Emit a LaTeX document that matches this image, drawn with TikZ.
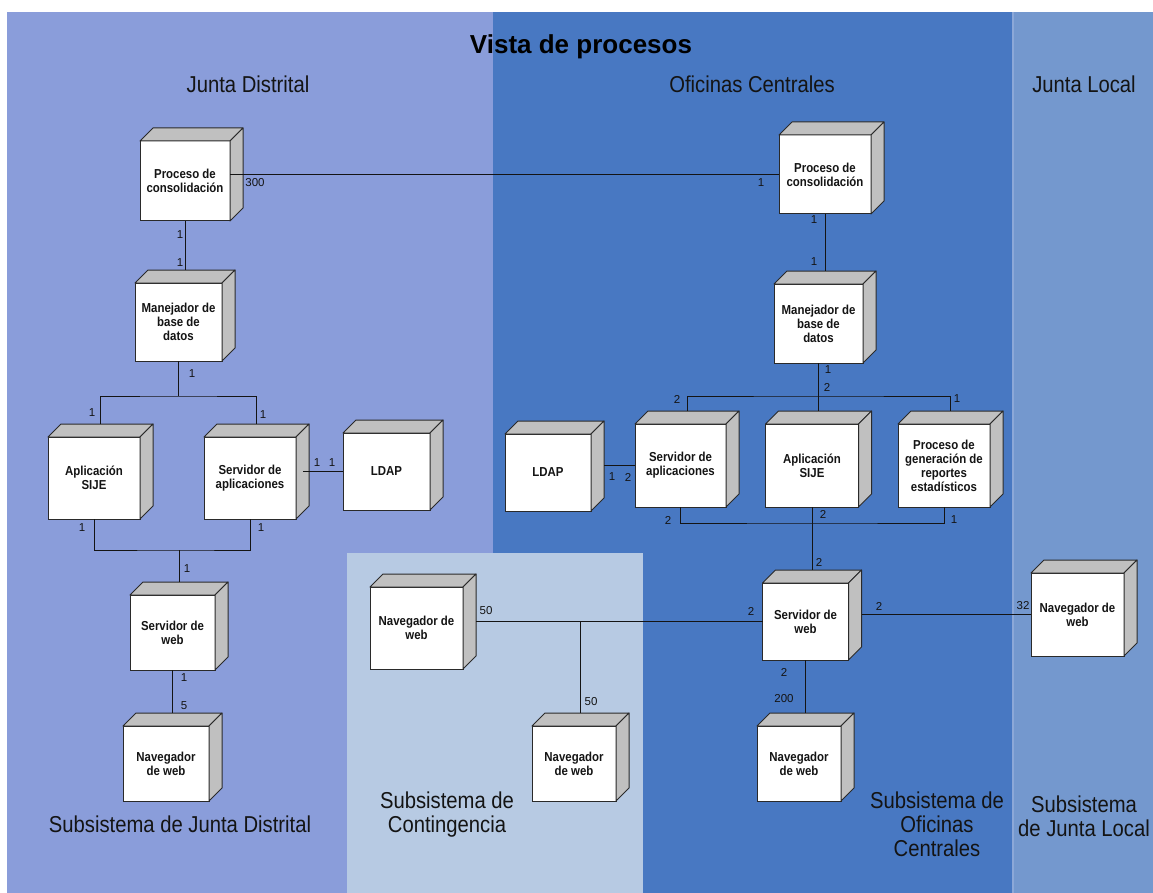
\documentclass[tikz,border=0pt]{standalone}
\usepackage{fontspec}
\setmainfont{Liberation Sans}
\newfontfamily\condfont{Liberation Sans}[FakeStretch=0.88]
\usetikzlibrary{calc}

\definecolor{jdblue}{HTML}{8A9DDA}
\definecolor{ocblue}{HTML}{4878C2}
\definecolor{jlblue}{HTML}{7498CE}
\definecolor{cgblue}{HTML}{B7CAE3}
\definecolor{seam}{HTML}{8CA8D8}
\definecolor{facegray}{HTML}{C0C0C0}
\definecolor{boxline}{HTML}{2A2A2A}
\definecolor{ink}{HTML}{141414}

% 3D deployment box: front face node, plus top and side faces,
% and a coordinate <name>-t at the middle of the back top edge
\newcommand\procbox[6]{%
  \node[nodebox, minimum width=#4pt, minimum height=#5pt] (#1) at (#2,#3) {#6};
  \filldraw[face] (#1.north west) -- ++(13pt,13pt)
     -- ([shift={(13pt,13pt)}]#1.north east) -- (#1.north east) -- cycle;
  \filldraw[face] (#1.north east) -- ++(13pt,13pt)
     -- ([shift={(13pt,13pt)}]#1.south east) -- (#1.south east) -- cycle;
  \coordinate (#1-t) at ([shift={(6.5pt,13pt)}]#1.north);
}

\begin{document}
\begin{tikzpicture}[x=1pt,y=-1pt,
  nodebox/.style={draw=boxline, fill=white, line width=1pt, outer sep=0pt,
    inner sep=2pt, align=center, text=ink,
    font=\condfont\bfseries\fontsize{13}{14}\selectfont},
  face/.style={draw=boxline, fill=facegray, line width=1pt, line join=round},
  link/.style={draw=ink, line width=1pt},
  mult/.style={inner sep=0pt, text=ink, font=\fontsize{11.5}{13}\selectfont},
  zonetitle/.style={inner sep=0pt, text=ink, align=center,
    font=\condfont\fontsize{23}{24}\selectfont},
]
\useasboundingbox (0,0) rectangle (1153,893);

% background zones
\fill[white] (0,0) rectangle (1153,893);
\fill[jdblue] (7,12) rectangle (493,893);
\fill[ocblue] (493,12) rectangle (1013,893);
\fill[jlblue] (1013,12) rectangle (1153,893);
\draw[seam, line width=1.5pt] (1013,12) -- (1013,893);
\fill[cgblue] (347,553) rectangle (643,893);

% headings
\node[inner sep=0pt, text=black, font=\bfseries\fontsize{26}{30}\selectfont] (title) at (581,47) {Vista de procesos};
\node[zonetitle] (zjd) at (248,84) {Junta Distrital};
\node[zonetitle] (zoc) at (752,84) {Oficinas Centrales};
\node[zonetitle] (zjl) at (1084,84) {Junta Local};
\node[zonetitle] (sjd) at (180,824) {Subsistema de Junta Distrital};
\node[zonetitle] (scg) at (447,815) {Subsistema de\\Contingencia};
\node[zonetitle] (soc) at (937,824) {Subsistema de\\Oficinas\\Centrales};
\node[zonetitle] (sjl) at (1084,816) {Subsistema\\de Junta Local};

% Junta Distrital
\procbox{pcjd}{185}{181}{90}{80}{Proceso de\\consolidación}
\procbox{manjd}{178.5}{322}{87}{78}{Manejador de\\base de\\datos}
\procbox{apljd}{94}{478}{92}{82}{Aplicación\\SIJE}
\procbox{srvjd}{250}{478}{92}{82}{Servidor de\\aplicaciones}
\procbox{ldapjd}{386.5}{471.5}{87}{77}{LDAP}
\procbox{webjd}{172.5}{632.5}{85}{75}{Servidor de\\web}
\procbox{navjd}{166}{763.5}{86}{75}{Navegador\\de web}

% Contingencia
\procbox{navca}{416.5}{628}{93}{82}{Navegador de\\web}
\procbox{navcb}{574}{763.5}{84}{75}{Navegador\\de web}

% Oficinas Centrales
\procbox{pcoc}{825}{174.5}{92}{79}{Proceso de\\consolidación}
\procbox{manoc}{818.5}{323.5}{89}{79}{Manejador de\\base de\\datos}
\procbox{ldapoc}{548}{472.5}{86}{77}{LDAP}
\procbox{srvoc}{680.5}{465.5}{91}{83}{Servidor de\\aplicaciones}
\procbox{apploc}{812}{465.5}{93}{83}{Aplicación\\SIJE}
\procbox{prgoc}{944}{465.5}{92}{83}{Proceso de\\generación de\\reportes\\estadísticos}
\procbox{weboc}{805.5}{621.5}{86}{77}{Servidor de\\web}
\procbox{navoc}{799}{763.5}{84}{75}{Navegador\\de web}

% Junta Local
\procbox{navjl}{1077.5}{614.5}{93}{83}{Navegador de\\web}

% bus junctions
\coordinate (jdbusA) at (178.5,396);
\coordinate (jdbusB) at (179,550);
\coordinate (ocbusA) at (818.5,396);
\coordinate (ocbusB) at (812,523);

% connectors
\draw[link] (pcjd.east |- pcoc.west) -- (pcoc.west);
\draw[link] (pcjd.south) -- (manjd-t);
\draw[link] (manjd.south) -- (jdbusA);
\draw[link] (apljd-t) |- (jdbusA) -| (srvjd-t);
\draw[link] ([xshift=7pt]srvjd.east |- ldapjd.west) -- (ldapjd.west);
\draw[link] (apljd.south) |- (jdbusB) -| (srvjd.south);
\draw[link] (jdbusB) -- (webjd-t);
\draw[link] (webjd.south) -- (navjd-t);

\draw[link] ([xshift=13pt]navca.east |- weboc.west) -- (weboc.west);
\draw[link] (navcb-t) -- (navcb-t |- weboc.west);
\draw[link] ([xshift=13pt]weboc.east |- navjl.west) -- (navjl.west);
\draw[link] (weboc.south) -- (navoc-t);

\draw[link] (pcoc.south) -- (manoc-t);
\draw[link] (manoc.south) -- (apploc-t);
\draw[link] (srvoc-t) |- (ocbusA) -| (prgoc-t);
\draw[link] ([xshift=13pt]ldapoc.east |- srvoc.west) -- (srvoc.west);
\draw[link] (srvoc.south) |- (ocbusB) -| (prgoc.south);
\draw[link] (apploc.south) -- (weboc-t);

% multiplicities
\node[mult] (m01) at (255,183) {300};
\node[mult] (m02) at (761,183) {1};
\node[mult] (m03) at (180,235) {1};
\node[mult] (m04) at (180,263) {1};
\node[mult] (m05) at (192,374) {1};
\node[mult] (m06) at (92,413) {1};
\node[mult] (m07) at (263,415) {1};
\node[mult] (m08) at (317,463) {1};
\node[mult] (m09) at (332,463) {1};
\node[mult] (m10) at (82,528) {1};
\node[mult] (m11) at (261,528) {1};
\node[mult] (m12) at (187,569) {1};
\node[mult] (m13) at (184,678) {1};
\node[mult] (m14) at (184,706) {5};
\node[mult] (m15) at (486,611) {50};
\node[mult] (m16) at (591,702) {50};
\node[mult] (m17) at (751,611) {2};
\node[mult] (m18) at (879,606) {2};
\node[mult] (m19) at (1023,606) {32};
\node[mult] (m20) at (784,672) {2};
\node[mult] (m21) at (784,699) {200};
\node[mult] (m22) at (814,220) {1};
\node[mult] (m23) at (814,262) {1};
\node[mult] (m24) at (828,370) {1};
\node[mult] (m25) at (827,387) {2};
\node[mult] (m26) at (677,399) {2};
\node[mult] (m27) at (957,399) {1};
\node[mult] (m28) at (612,477) {1};
\node[mult] (m29) at (628,477) {2};
\node[mult] (m30) at (668,520) {2};
\node[mult] (m31) at (823,514) {2};
\node[mult] (m32) at (954,520) {1};
\node[mult] (m33) at (819,562) {2};
\end{tikzpicture}
\end{document}
